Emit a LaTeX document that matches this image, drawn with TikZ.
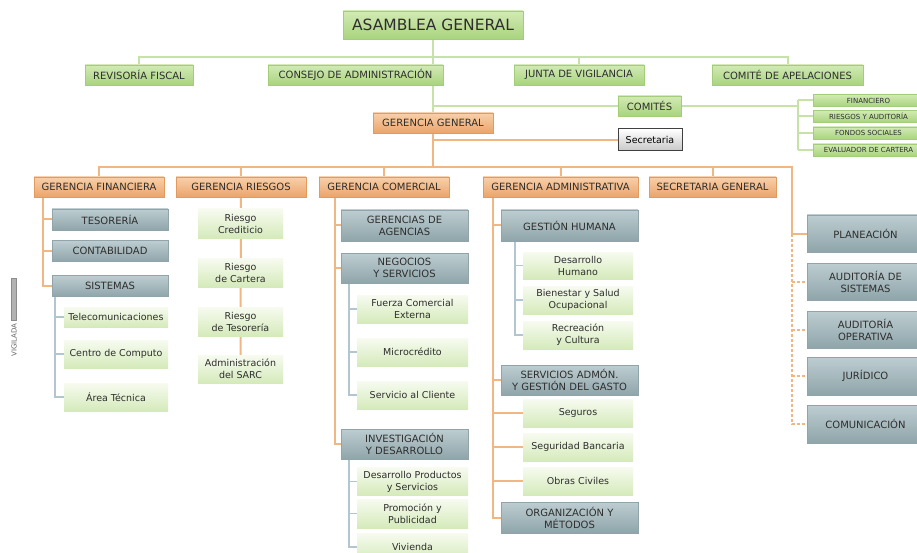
\documentclass[tikz,border=0pt]{standalone}
\usepackage{fontspec}
\setmainfont{DejaVu Sans}
\usetikzlibrary{backgrounds}
\definecolor{txt}{HTML}{2E2E2E}
\definecolor{grnT}{HTML}{D2EAB4}
\definecolor{grnD}{HTML}{A9D47E}
\definecolor{grnB}{HTML}{A3CD79}
\definecolor{orgT}{HTML}{F8D0AA}
\definecolor{orgD}{HTML}{EBA46B}
\definecolor{orgB}{HTML}{E39A5F}
\definecolor{gryT}{HTML}{BDCDD1}
\definecolor{gryD}{HTML}{8FA5AA}
\definecolor{gryB}{HTML}{90A4A9}
\definecolor{lfT}{HTML}{F7FBF0}
\definecolor{lfD}{HTML}{D5EABA}
\definecolor{glin}{HTML}{C6E2A8}
\definecolor{olin}{HTML}{F0B684}
\definecolor{slin}{HTML}{B3C6D0}
\tikzset{
  box/.style={inner sep=1pt, outer sep=0pt, align=center, text=txt},
  greenbox/.style={box, draw=grnB, line width=0.6pt, top color=grnT, bottom color=grnD, font=\fontsize{10}{12}\selectfont},
  smallbox/.style={box, draw=grnB, line width=0.6pt, top color=grnT, bottom color=grnD, font=\fontsize{7}{8}\selectfont},
  orangebox/.style={box, draw=orgB, line width=0.6pt, top color=orgT, bottom color=orgD, font=\fontsize{10}{12}\selectfont},
  graybox/.style={box, draw=gryB, line width=0.5pt, top color=gryT, bottom color=gryD, font=\fontsize{10}{12}\selectfont},
  leafbox/.style={box, top color=lfT, bottom color=lfD, font=\fontsize{9.5}{12}\selectfont},
  secbox/.style={box, draw=black!75, line width=1pt, top color=white, bottom color=black!22, text=black, font=\fontsize{9.5}{11}\selectfont},
  gline/.style={draw=glin, line width=2pt},
  oline/.style={draw=olin, line width=2pt},
  sline/.style={draw=slin, line width=1.6pt},
  dline/.style={draw=olin, line width=2pt, dash pattern=on 3pt off 2pt},
}
\begin{document}
\begin{tikzpicture}[x=1pt,y=-1pt]
\useasboundingbox (0,0) rectangle (917,553);
\clip (0,0) rectangle (917,553);

% top level
\node[greenbox, minimum width=180, minimum height=28, font=\fontsize{15.5}{18}\selectfont] (asam) at (433,25) {ASAMBLEA GENERAL};
\node[greenbox, minimum width=108, minimum height=20] (revi) at (139,75) {REVISORÍA FISCAL};
\node[greenbox, minimum width=175, minimum height=20] (cons) at (355.5,75) {CONSEJO DE ADMINISTRACIÓN};
\node[greenbox, minimum width=130, minimum height=20] (junta) at (579,75) {JUNTA DE VIGILANCIA};
\node[greenbox, minimum width=151, minimum height=20] (apel) at (787.5,75) {COMITÉ DE APELACIONES};
\node[greenbox, minimum width=63, minimum height=20] (comi) at (649.5,106) {COMITÉS};
\node[smallbox, minimum width=111, minimum height=12] (cfin) at (868.5,100.5) {FINANCIERO};
\node[smallbox, minimum width=111, minimum height=12] (crie) at (868.5,116.5) {RIESGOS Y AUDITORÍA};
\node[smallbox, minimum width=111, minimum height=12] (cfon) at (868.5,133) {FONDOS SOCIALES};
\node[smallbox, minimum width=111, minimum height=12] (ceva) at (868.5,150) {EVALUADOR DE CARTERA};

\node[orangebox, minimum width=120, minimum height=20] (gg) at (433,123) {GERENCIA GENERAL};
\node[secbox, minimum width=64, minimum height=22] (secr) at (650,140) {Secretaria};

% gerencias
\node[orangebox, minimum width=130, minimum height=20] (gfin) at (99,187) {GERENCIA FINANCIERA};
\node[orangebox, minimum width=130, minimum height=20] (gries) at (241,187) {GERENCIA RIESGOS};
\node[orangebox, minimum width=130, minimum height=20] (gcom) at (384,187) {GERENCIA COMERCIAL};
\node[orangebox, minimum width=155, minimum height=20] (gadm) at (560.5,187) {GERENCIA ADMINISTRATIVA};
\node[orangebox, minimum width=127, minimum height=20] (sgen) at (712.5,187) {SECRETARIA GENERAL};

% financiera
\node[graybox, minimum width=116, minimum height=21] (tes) at (110,219.5) {TESORERÍA};
\node[graybox, minimum width=116, minimum height=21] (cont) at (110,251) {CONTABILIDAD};
\node[graybox, minimum width=116, minimum height=21] (sist) at (110,286) {SISTEMAS};
\node[leafbox, minimum width=104, minimum height=20] (tele) at (116,317) {Telecomunicaciones};
\node[leafbox, minimum width=104, minimum height=28] (cent) at (116,354) {Centro de Computo};
\node[leafbox, minimum width=104, minimum height=28] (area) at (116,397) {Área Técnica};

% riesgos
\node[leafbox, minimum width=85, minimum height=29] (rcre) at (240.5,223.5) {Riesgo\\Crediticio};
\node[leafbox, minimum width=85, minimum height=29] (rcar) at (240.5,272.5) {Riesgo\\de Cartera};
\node[leafbox, minimum width=85, minimum height=29] (rtes) at (240.5,321.5) {Riesgo\\de Tesorería};
\node[leafbox, minimum width=85, minimum height=28] (sarc) at (240.5,369) {Administración\\del SARC};

% comercial
\node[graybox, minimum width=127, minimum height=31] (agen) at (404.5,225.5) {GERENCIAS DE\\AGENCIAS};
\node[graybox, minimum width=127, minimum height=30] (nego) at (404.5,268) {NEGOCIOS\\Y SERVICIOS};
\node[leafbox, minimum width=111, minimum height=28] (fuer) at (412.5,309) {Fuerza Comercial\\Externa};
\node[leafbox, minimum width=111, minimum height=28] (micr) at (412.5,352) {Microcrédito};
\node[leafbox, minimum width=111, minimum height=28] (serc) at (412.5,395) {Servicio al Cliente};
\node[graybox, minimum width=127, minimum height=30] (inve) at (404.5,444) {INVESTIGACIÓN\\Y DESARROLLO};
\node[leafbox, minimum width=111, minimum height=28] (desp) at (412.5,481.5) {Desarrollo Productos\\y Servicios};
\node[leafbox, minimum width=111, minimum height=29] (prom) at (412.5,513.5) {Promoción y\\Publicidad};
\node[leafbox, minimum width=111, minimum height=28] (vivi) at (412.5,547) {Vivienda};

% administrativa
\node[graybox, minimum width=137, minimum height=31] (gh) at (569.5,225.5) {GESTIÓN HUMANA};
\node[leafbox, minimum width=110, minimum height=27] (dhum) at (578,265.5) {Desarrollo\\Humano};
\node[leafbox, minimum width=110, minimum height=28] (bien) at (578,300) {Bienestar y Salud\\Ocupacional};
\node[leafbox, minimum width=110, minimum height=28] (recr) at (578,335) {Recreación\\y Cultura};
\node[graybox, minimum width=137, minimum height=30] (sadm) at (569.5,380) {SERVICIOS ADMÓN.\\Y GESTIÓN DEL GASTO};
\node[leafbox, minimum width=110, minimum height=28] (segu) at (578,413) {Seguros};
\node[leafbox, minimum width=110, minimum height=28] (segb) at (578,447) {Seguridad Bancaria};
\node[leafbox, minimum width=110, minimum height=28] (obra) at (578,481) {Obras Civiles};
\node[graybox, minimum width=137, minimum height=31] (orga) at (569.5,517.5) {ORGANIZACIÓN Y\\MÉTODOS};

% right column
\node[graybox, minimum width=117, minimum height=37] (plan) at (865.5,233.5) {PLANEACIÓN};
\node[graybox, minimum width=117, minimum height=37] (asis) at (865.5,281.5) {AUDITORÍA DE\\SISTEMAS};
\node[graybox, minimum width=117, minimum height=37] (aope) at (865.5,329.5) {AUDITORÍA\\OPERATIVA};
\node[graybox, minimum width=117, minimum height=38] (juri) at (865.5,376) {JURÍDICO};
\node[graybox, minimum width=117, minimum height=38] (comu) at (865.5,424) {COMUNICACIÓN};

% vigilada mark
\node[rotate=90, inner sep=0pt, text=black!60, font=\fontsize{7}{8}\selectfont] (vig) at (14,340) {VIGILADA};
\node[fill=black!30, draw=black!45, line width=0.3pt, minimum width=5, minimum height=42, inner sep=0pt] (logo) at (14,299) {};

% coordinates
\coordinate (bus1) at (433,57);
\coordinate (ob) at (792,167);
\coordinate (cv) at (798,106);
\coordinate (fv) at (43,0);
\coordinate (sv) at (55,0);
\coordinate (kv) at (335,0);
\coordinate (nv) at (349,0);
\coordinate (av) at (493,0);
\coordinate (hv) at (515,0);

\begin{scope}[on background layer]
\fill[white] (0,0) rectangle (917,553);
% green
\draw[gline] (asam.south) -- (gg.north);
\draw[gline] (revi.north) |- (bus1) -| (apel.north);
\draw[gline] (junta.north) -- (junta.north |- bus1);
\draw[gline] (comi.west -| gg.north) -- (comi.west);
\draw[gline] (comi.east) -- (comi.east -| cv);
\draw[gline] (cv |- cfin) -- (cv |- ceva);
\foreach \n in {cfin,crie,cfon,ceva} \draw[gline] (cv |- \n) -- (\n.west);
% orange
\draw[oline] (gg.south) -- (gg.south |- ob);
\draw[oline] (gg.south |- secr.west) -- (secr.west);
\draw[oline] (gfin.north) |- (ob) |- (plan.west);
\foreach \n in {gries,gcom,gadm,sgen} \draw[oline] (\n.north) -- (\n.north |- ob);
\draw[dline] (plan.west -| ob) |- (comu.west);
\foreach \n in {asis,aope,juri} \draw[dline] (ob |- \n.west) -- (\n.west);
% financiera
\draw[oline] (gfin.south -| fv) |- (sist.west);
\foreach \n in {tes,cont} \draw[oline] (fv |- \n.west) -- (\n.west);
\draw[sline] (sist.south -| sv) |- (area.west);
\foreach \n in {tele,cent} \draw[sline] (sv |- \n.west) -- (\n.west);
% riesgos
\draw[oline] (gries.south) -- (sarc.north);
% comercial
\draw[oline] (gcom.south -| kv) |- (inve.west);
\foreach \n in {agen,nego} \draw[oline] (kv |- \n.west) -- (\n.west);
\draw[sline] (nego.south -| nv) |- (serc.west);
\foreach \n in {fuer,micr} \draw[sline] (nv |- \n.west) -- (\n.west);
\draw[sline] (inve.south -| nv) |- (vivi.west);
\foreach \n in {desp,prom} \draw[sline] (nv |- \n.west) -- (\n.west);
% administrativa
\draw[oline] (gadm.south -| av) |- (orga.west);
\foreach \n in {gh,sadm,segu,segb,obra} \draw[oline] (av |- \n.west) -- (\n.west);
\draw[sline] (gh.south -| hv) |- (recr.west);
\foreach \n in {dhum,bien} \draw[sline] (hv |- \n.west) -- (\n.west);
\end{scope}
\end{tikzpicture}
\end{document}
